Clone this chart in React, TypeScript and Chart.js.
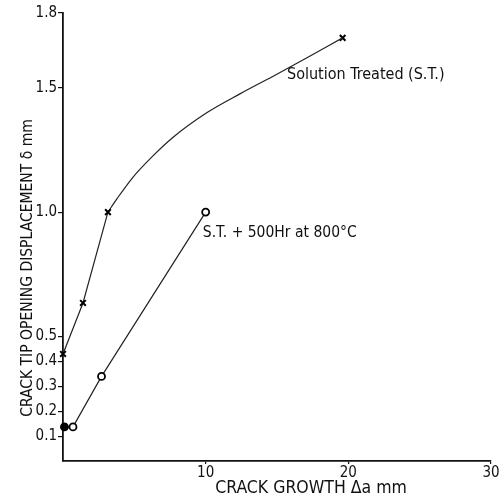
import React, { useEffect, useRef } from 'react';
import { Chart, registerables } from 'chart.js';

Chart.register(...registerables);

// Solution Treated (S.T.) measured points
const stX = [0, 1.4, 3.15, 19.6];
const stY = [0.43, 0.635, 1.0, 1.7];
// smooth curve drawn through the S.T. data beyond 1.0 mm
const stCurveX = [3.15, 3.8, 4.9, 6.2, 7.7, 10.1, 12.4, 14.7, 17.1, 19.6];
const stCurveY = [1.0, 1.055, 1.14, 1.22, 1.3, 1.4, 1.475, 1.545, 1.62, 1.7];
// S.T. + 500Hr at 800°C
const agedX = [0.1, 0.7, 2.7, 10.0];
const agedY = [0.137, 0.137, 0.34, 1.0];

const yTickValues = [0.1, 0.2, 0.3, 0.4, 0.5, 1.0, 1.5, 1.8];
const yTickLabels = ['0.1', '0.2', '0.3', '0.4', '0.5', '1.0', '1.5', '1.8'];
const xTickValues = [10, 20, 30];
const xTickLabels = ['10', '20', '30'];

const xTitle = 'CRACK GROWTH Δa mm';
const yTitle = 'CRACK TIP OPENING DISPLACEMENT δ mm';
const stLabel = 'Solution Treated (S.T.)';
const agedLabel = 'S.T. + 500Hr at 800°C';
const stLabelPos = { x: 15.7, y: 1.55 };
const agedLabelPos = { x: 9.8, y: 0.915 };

const FONT = "'DejaVu Sans Condensed', 'Liberation Sans Narrow', sans-serif";

export default function App() {
  const ref = useRef<HTMLCanvasElement | null>(null);
  useEffect(() => {
    const canvas = ref.current;
    if (!canvas) return;
    const textPlugin = {
      id: 'texts',
      afterDraw(chart: any) {
        const ctx = chart.ctx;
        const xs = chart.scales.x;
        const ys = chart.scales.y;
        ctx.save();
        ctx.fillStyle = '#111';
        ctx.textBaseline = 'middle';
        ctx.textAlign = 'left';
        ctx.font = `16px ${FONT}`;
        ctx.fillText(stLabel, xs.getPixelForValue(stLabelPos.x), ys.getPixelForValue(stLabelPos.y));
        ctx.font = `15.5px ${FONT}`;
        ctx.fillText(agedLabel, xs.getPixelForValue(agedLabelPos.x), ys.getPixelForValue(agedLabelPos.y));
        ctx.textAlign = 'center';
        ctx.font = `17.5px ${FONT}`;
        ctx.fillText(xTitle, 311, 488);
        ctx.font = `15.5px ${FONT}`;
        ctx.translate(28, 268);
        ctx.rotate(-Math.PI / 2);
        ctx.fillText(yTitle, 0, 0);
        ctx.restore();
      },
    };
    const chart = new Chart(canvas, {
      type: 'scatter',
      data: {
        datasets: [
          {
            label: stLabel,
            data: stX.slice(0, 3).map((x, i) => ({ x, y: stY[i] })),
            showLine: true,
            borderColor: '#222',
            borderWidth: 1.2,
            pointStyle: 'crossRot',
            pointRadius: 4,
            pointBorderWidth: 2,
            pointBorderColor: '#000',
          },
          {
            label: 'S.T. curve',
            data: stCurveX.map((x, i) => ({ x, y: stCurveY[i] })),
            showLine: true,
            borderColor: '#222',
            borderWidth: 1.2,
            cubicInterpolationMode: 'monotone',
            pointRadius: 0,
          },
          {
            label: 'S.T. end',
            data: [{ x: stX[3], y: stY[3] }],
            pointStyle: 'crossRot',
            pointRadius: 4,
            pointBorderWidth: 2,
            pointBorderColor: '#000',
          },
          {
            label: agedLabel,
            data: agedX.map((x, i) => ({ x, y: agedY[i] })),
            showLine: true,
            borderColor: '#222',
            borderWidth: 1.2,
            pointStyle: 'circle',
            pointRadius: 3.5,
            pointBorderWidth: 1.8,
            pointBorderColor: '#000',
            pointBackgroundColor: ['#000', '#fff', '#fff', '#fff'],
          },
        ],
      },
      options: {
        responsive: false,
        animation: false,
        clip: false,
        layout: { padding: { top: 13, right: 11, left: 0, bottom: 0 } },
        plugins: { legend: { display: false }, tooltip: { enabled: false } },
        scales: {
          x: {
            type: 'linear',
            min: 0,
            max: 30,
            afterBuildTicks: (s: any) => {
              s.ticks = xTickValues.map((v) => ({ value: v }));
            },
            afterFit: (s: any) => {
              s.height = 37;
            },
            ticks: {
              color: '#111',
              font: { family: FONT, size: 15 },
              padding: 0,
              maxRotation: 0,
              callback: (v: any) => {
                const i = xTickValues.indexOf(Number(v));
                return i >= 0 ? xTickLabels[i] : '';
              },
            },
            grid: { display: true, drawOnChartArea: false, tickLength: 3, color: '#111', lineWidth: 1.2 },
            border: { display: true, color: '#111', width: 1.8 },
          },
          y: {
            type: 'linear',
            min: 0,
            max: 1.8,
            afterBuildTicks: (s: any) => {
              s.ticks = yTickValues.map((v) => ({ value: v }));
            },
            afterFit: (s: any) => {
              s.width = 63;
            },
            ticks: {
              color: '#111',
              font: { family: FONT, size: 15 },
              padding: 1,
              callback: (v: any) => {
                const i = yTickValues.findIndex((t) => Math.abs(t - Number(v)) < 1e-6);
                return i >= 0 ? yTickLabels[i] : '';
              },
            },
            grid: { display: true, drawOnChartArea: false, tickLength: 5, color: '#111', lineWidth: 1.2 },
            border: { display: true, color: '#111', width: 1.8 },
          },
        },
      },
      plugins: [textPlugin],
    } as any);
    return () => chart.destroy();
  }, []);
  return (
    <div style={{ position: 'fixed', left: 0, top: 0, width: 502, height: 498, background: '#fff' }}>
      <canvas ref={ref} width={502} height={498} style={{ display: 'block' }} />
    </div>
  );
}
